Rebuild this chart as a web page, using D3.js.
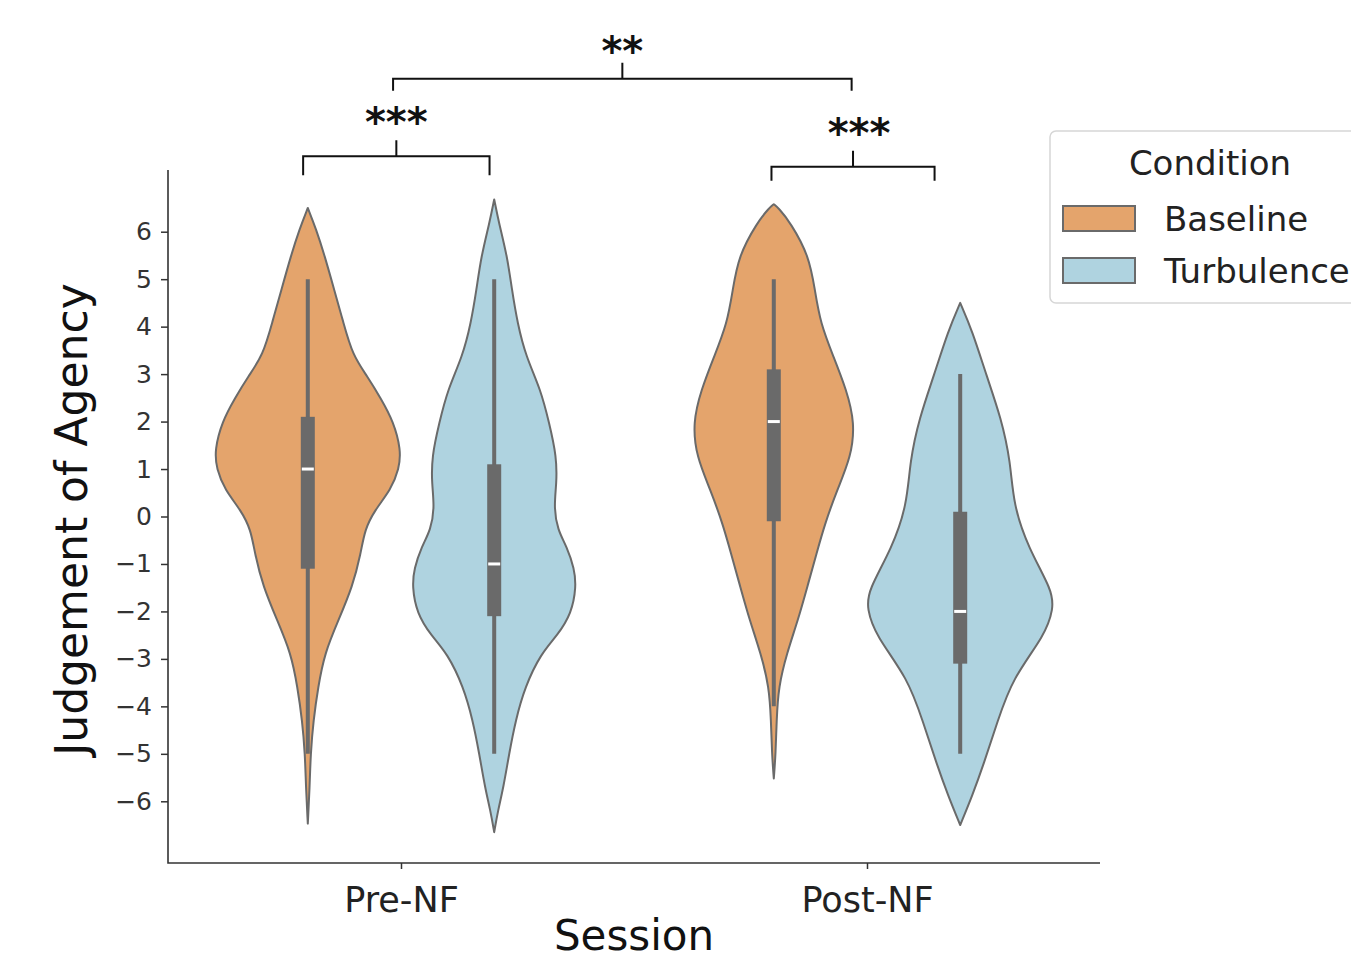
<!DOCTYPE html>
<html>
<head>
<meta charset="utf-8">
<script src="https://cdn.jsdelivr.net/npm/d3@7"></script>
<style>
body { margin: 0; background: #fff; }
svg { display: block; font-family: "DejaVu Sans", sans-serif; }
</style>
</head>
<body>
<svg id="chart"></svg>
<script>
const width = 1351
const height = 961

const sessions = ["Pre-NF", "Post-NF"]
const conditions = ["Baseline", "Turbulence"]
const fills = ["#e4a46c", "#afd3e0"]
const yTicks = [-6, -5, -4, -3, -2, -1, 0, 1, 2, 3, 4, 5, 6]

// violin outlines: score value and relative half-width
const preBaseVals = [6.5, 6.05, 5.5, 4.8, 4.1, 3.4, 2.95, 2.5, 2.0, 1.4, 1.0, 0.56, 0.14, -0.28, -0.77, -1.48, -2.18, -2.88, -3.6, -4.3, -5.0, -5.7, -6.47]
const preBaseDens = [0, 0.09, 0.18, 0.28, 0.38, 0.48, 0.64, 0.78, 0.92, 1.0, 0.98, 0.89, 0.72, 0.61, 0.57, 0.48, 0.33, 0.18, 0.11, 0.06, 0.03, 0.02, 0]
const preTurbVals = [6.68, 6.19, 5.48, 4.78, 4.07, 3.37, 2.67, 1.97, 1.26, 0.7, 0.2, -0.28, -0.64, -1.1, -1.48, -2.04, -2.5, -2.89, -3.59, -4.29, -5.0, -5.7, -6.2, -6.65]
const preTurbDens = [0, 0.05, 0.14, 0.19, 0.25, 0.34, 0.50, 0.59, 0.67, 0.67, 0.64, 0.68, 0.78, 0.86, 0.88, 0.83, 0.68, 0.50, 0.33, 0.23, 0.16, 0.10, 0.04, 0]
const postBaseVals = [6.58, 6.5, 6.19, 5.48, 4.78, 4.07, 3.37, 2.67, 1.97, 1.26, 0.56, -0.14, -0.77, -1.48, -2.18, -2.88, -3.59, -4.29, -5.0, -5.52]
const postBaseDens = [0, 0.05, 0.18, 0.38, 0.44, 0.50, 0.64, 0.78, 0.87, 0.83, 0.68, 0.55, 0.46, 0.36, 0.26, 0.14, 0.05, 0.03, 0.02, 0]
const postTurbVals = [4.5, 3.91, 2.98, 2.07, 1.16, 0.25, -0.66, -1.57, -1.94, -2.5, -3.41, -4.32, -5.23, -5.88, -6.5]
const postTurbDens = [0, 0.13, 0.28, 0.44, 0.54, 0.57, 0.73, 0.99, 1.0, 0.91, 0.56, 0.40, 0.25, 0.13, 0]

// inner box: order Pre/Baseline, Pre/Turbulence, Post/Baseline, Post/Turbulence
const whiskerLow = [-5, -5, -4, -5]
const quart1 = [-1.1, -2.1, -0.1, -3.1]
const medians = [1, -1, 2, -2]
const quart3 = [2.1, 1.1, 3.1, 0.1]
const whiskerHigh = [5, 5, 5, 3]

// significance brackets (x in session units, y in score units)
const bracketFrom = [-0.21, 0.795, -0.017]
const bracketTo = [0.19, 1.145, 0.967]
const bracketLevel = [7.59, 7.37, 9.22]
const bracketText = ["***", "***", "**"]

const svg = d3.select("#chart")
            .attr("width", width)
            .attr("height", height)

const x = d3.scaleLinear().domain([-0.5, 1.5]).range([168, 1100])
const y = d3.scaleLinear().domain([-7.3, 7.3]).range([863, 170])
const w = d3.scaleLinear().domain([0, 1]).range([0, x(0.2) - x(0)])
const hueOffset = [-0.2, 0.2]

const outline = "#6a6a6a"

const violins = [
    {s: 0, c: 0, vals: preBaseVals, dens: preBaseDens},
    {s: 0, c: 1, vals: preTurbVals, dens: preTurbDens},
    {s: 1, c: 0, vals: postBaseVals, dens: postBaseDens},
    {s: 1, c: 1, vals: postTurbVals, dens: postTurbDens}
]

violins.forEach(function(v, i) {
    const cx = x(v.s + hueOffset[v.c])
    const pts = v.vals.map((val, k) => [val, v.dens[k]])
    const area = d3.area()
        .y(d => y(d[0]))
        .x0(d => cx - w(d[1]))
        .x1(d => cx + w(d[1]))
        .curve(d3.curveBasis)

    svg.append("path")
       .attr("d", area(pts))
       .attr("fill", fills[v.c])
       .attr("stroke", outline)
       .attr("stroke-width", 2)
       .attr("stroke-linejoin", "round")

    // whisker
    svg.append("line")
       .attr("x1", cx).attr("x2", cx)
       .attr("y1", y(whiskerHigh[i])).attr("y2", y(whiskerLow[i]))
       .attr("stroke", outline)
       .attr("stroke-width", 4)
    // box
    svg.append("rect")
       .attr("x", cx - 7)
       .attr("width", 14)
       .attr("y", y(quart3[i]))
       .attr("height", y(quart1[i]) - y(quart3[i]))
       .attr("fill", outline)
    // median
    svg.append("rect")
       .attr("x", cx - 6)
       .attr("width", 12)
       .attr("y", y(medians[i]) - 1.5)
       .attr("height", 3)
       .attr("fill", "#fff")
})

// axes
const yAxis = svg.append("g")
    .attr("transform", `translate(${x(-0.5)},0)`)
    .call(d3.axisLeft(y).tickValues(yTicks).tickSize(7).tickPadding(9).tickFormat(d3.format("d")))
yAxis.select(".domain").remove()
yAxis.selectAll(".tick line").attr("stroke", "#333").attr("stroke-width", 1.5)
yAxis.selectAll(".tick text")
     .attr("fill", "#333")
     .style("font-size", "25px")
     .style("font-family", "DejaVu Sans")

const xAxis = svg.append("g")
    .attr("transform", `translate(0,${y(-7.3)})`)
    .call(d3.axisBottom(x).tickValues([0, 1]).tickSize(6).tickPadding(18).tickFormat(d => sessions[d]))
xAxis.select(".domain").remove()
xAxis.selectAll(".tick line").attr("stroke", "#333").attr("stroke-width", 1.5)
xAxis.selectAll(".tick text")
     .attr("fill", "#222")
     .style("font-size", "35px")
     .style("font-family", "DejaVu Sans")

// spines
svg.append("path")
   .attr("d", `M${x(-0.5)},${y(7.3)}V${y(-7.3)}H${x(1.5)}`)
   .attr("fill", "none")
   .attr("stroke", "#333")
   .attr("stroke-width", 1.6)

svg.append("text")
   .attr("transform", `translate(87,${(y(-7.3) + y(7.3)) / 2 + 3}) rotate(-90)`)
   .attr("text-anchor", "middle")
   .style("font-size", "44px")
   .attr("fill", "#111")
   .text("Judgement of Agency")

svg.append("text")
   .attr("x", (x(-0.5) + x(1.5)) / 2)
   .attr("y", 950)
   .attr("text-anchor", "middle")
   .style("font-size", "42px")
   .attr("fill", "#111")
   .text("Session")

// significance brackets
bracketFrom.forEach(function(f, i) {
    const x0 = x(f), x1 = x(bracketTo[i]), yy = y(bracketLevel[i])
    const drop = i === 2 ? 12 : (i === 0 ? 19 : 14)
    const mid = (x0 + x1) / 2
    svg.append("path")
       .attr("d", `M${x0},${yy + drop}V${yy}H${x1}V${yy + drop}M${mid},${yy}V${yy - 16}`)
       .attr("fill", "none")
       .attr("stroke", "#111")
       .attr("stroke-width", 2)
    svg.append("text")
       .attr("x", mid + (i === 1 ? 6 : 0))
       .attr("y", yy - 16 - (i === 2 ? -2 : 4))
       .attr("text-anchor", "middle")
       .style("font-size", "40px")
       .style("font-weight", "bold")
       .attr("fill", "#111")
       .text(bracketText[i])
})

// legend
const legend = svg.append("g").attr("transform", "translate(1050,131)")
legend.append("rect")
      .attr("width", 330).attr("height", 172)
      .attr("rx", 6)
      .attr("fill", "#fff")
      .attr("stroke", "#d6d6d6")
      .attr("stroke-width", 1.5)
legend.append("text")
      .attr("x", 160).attr("y", 44)
      .attr("text-anchor", "middle")
      .style("font-size", "34px")
      .attr("fill", "#222")
      .text("Condition")
conditions.forEach(function(c, i) {
    legend.append("rect")
          .attr("x", 13).attr("y", 75 + i * 52)
          .attr("width", 72).attr("height", 25)
          .attr("fill", fills[i])
          .attr("stroke", outline)
          .attr("stroke-width", 2)
    legend.append("text")
          .attr("x", 114).attr("y", 100 + i * 52)
          .style("font-size", "34px")
          .attr("fill", "#222")
          .text(c)
})
</script>
</body>
</html>
